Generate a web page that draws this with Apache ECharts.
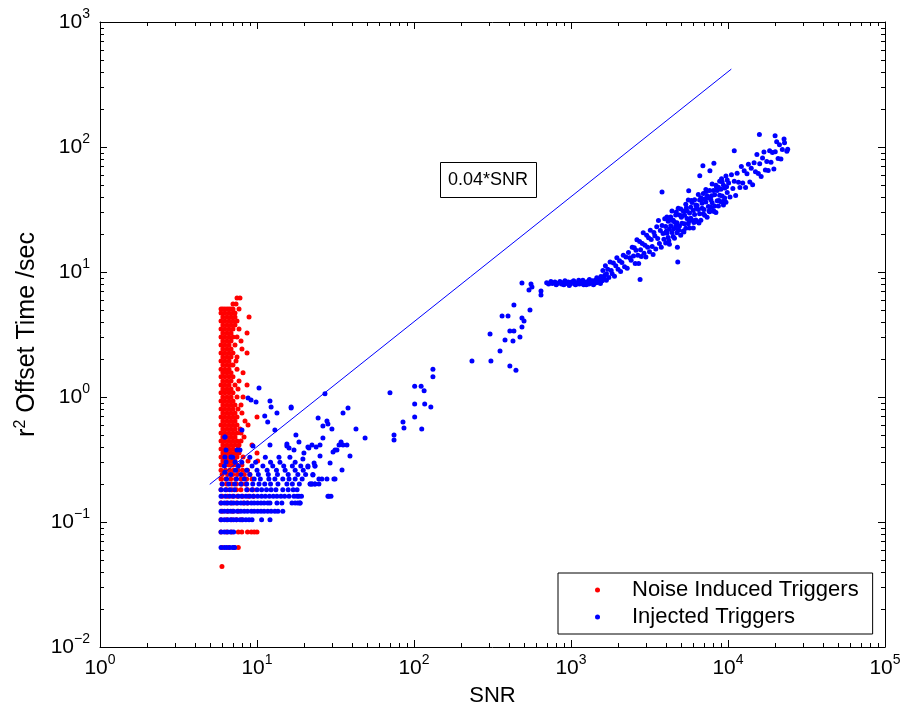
<!DOCTYPE html>
<html><head><meta charset="utf-8">
<script src="https://cdn.jsdelivr.net/npm/echarts@6/dist/echarts.min.js"></script>
<style>html,body{margin:0;padding:0;background:#fff}#c{width:911px;height:715px}</style>
</head><body><div id="c"></div>
<script>
// ---------------- data ----------------
const xTickValues = [1, 10, 100, 1000, 10000, 100000];
const yTickValues = [0.01, 0.1, 1, 10, 100, 1000];
const lineSnr = [5, 10500];
const lineVal = [0.2, 420];
const lineLabel = '0.04*SNR';
const seriesNames = ['Noise Induced Triggers', 'Injected Triggers'];

// Noise induced triggers: rows of [r2 value, [SNR values]]
const redRows = [
  [6.19, [7.46, 7.79]],
  [5.55, [7.03, 7.35]],
  [5.06, [5.9, 6.06, 6.24, 6.44, 6.63, 6.83, 7.03, 7.68]],
  [4.70, [5.9, 6.24, 6.63, 7.03, 7.24]],
  [4.37, [6.06, 6.44, 6.83, 7.24, 8.9]],
  [4.06, [5.9, 6.24, 6.63, 7.03, 7.46]],
  [3.77, [6.06, 6.44, 6.83, 7.24]],
  [3.50, [5.9, 6.24, 6.63, 7.03, 7.68]],
  [3.25, [6.06, 6.44, 6.83, 8.64]],
  [3.02, [5.9, 6.24, 6.63, 7.03, 7.46]],
  [2.81, [6.06, 6.44, 6.83, 7.91]],
  [2.61, [5.9, 6.24, 6.63, 7.24]],
  [2.42, [6.06, 6.44, 6.83, 8.02]],
  [2.25, [5.9, 6.24, 6.63, 7.03, 8.64]],
  [2.09, [6.06, 6.44, 6.83, 7.46]],
  [1.94, [5.9, 6.24, 6.63, 7.35]],
  [1.80, [6.06, 6.44, 6.83, 7.03]],
  [1.67, [5.9, 6.24, 6.63, 7.46]],
  [1.56, [6.06, 6.44, 6.83, 8.15]],
  [1.45, [5.9, 6.24, 6.63, 7.03]],
  [1.34, [6.06, 6.44, 6.83, 7.68]],
  [1.25, [5.9, 6.24, 6.63, 7.24, 8.64]],
  [1.16, [6.06, 6.44, 6.83, 7.57]],
  [1.08, [5.9, 6.24, 6.63, 7.03]],
  [1.00, [6.06, 6.44, 6.83, 7.46, 8.15]],
  [0.929, [5.9, 6.24, 6.63, 7.03]],
  [0.863, [6.06, 6.44, 6.83, 7.24, 7.91]],
  [0.802, [5.9, 6.24, 6.63, 7.03, 7.57]],
  [0.745, [6.06, 6.44, 6.83, 7.24, 8.02]],
  [0.692, [5.9, 6.24, 6.63, 7.03, 7.46, 10.0]],
  [0.643, [6.06, 6.44, 6.83, 7.24, 8.39]],
  [0.597, [5.9, 6.24, 6.63, 7.03, 7.46, 8.77]],
  [0.555, [6.06, 6.44, 6.83, 7.24, 7.79]],
  [0.515, [5.9, 6.24, 6.63, 7.03, 7.46, 7.91]],
  [0.479, [6.06, 6.44, 6.83, 7.24, 8.27]],
  [0.445, [5.9, 6.24, 6.63, 7.03, 7.46, 7.91]],
  [0.413, [6.06, 6.44, 6.83, 7.24, 7.68, 9.29]],
  [0.384, [5.9, 6.24, 6.63, 7.03, 7.57]],
  [0.356, [6.06, 6.44, 6.83, 7.24, 7.68, 10.0]],
  [0.331, [5.9, 6.24, 6.63, 7.03, 7.46, 8.15]],
  [0.308, [6.06, 6.44, 6.83, 7.24, 8.77, 10.1]],
  [0.286, [5.9, 6.24, 6.63, 7.03, 7.46, 8.02]],
  [0.26, [5.9, 6.3, 6.7, 7.1, 7.6, 8.1, 8.7]],
  [0.24, [6.0, 6.5, 7.0, 7.5, 8.3, 9.0]],
  [0.221, [5.9, 6.3, 6.8, 7.3, 7.9, 8.6, 9.3]],
  [0.201, [6.0, 6.4, 6.9, 7.4, 8.0, 8.5]],
  [0.181, [5.9, 6.4, 6.9, 7.4, 7.9, 8.7, 9.4]],
  [0.161, [6.0, 6.5, 7.0, 7.5, 8.1, 8.8, 9.5]],
  [0.142, [5.9, 6.4, 6.9, 7.4, 8.2, 8.7]],
  [0.122, [6.0, 6.5, 7.0, 7.6]],
  [0.104, [5.9, 6.4, 6.9, 7.4, 8.0]],
  [0.083, [5.9, 6.4, 6.9, 7.6, 8.0, 8.7, 9.2, 9.6, 10.0]],
  [0.0625, [6.0, 6.6, 7.2, 7.6]],
  [0.044, [5.98]]
];

// Injected triggers at low SNR, quantized rows: [r2 value, [SNR values]]
const blueRows = [
  [0.0625, [5.9, 6.2, 6.4, 6.7, 7.0, 7.2]],
  [0.083, [5.9, 6.2, 6.5, 6.8, 7.1]],
  [0.104, [5.9, 6.2, 6.5, 6.8, 7.1, 7.4, 7.8, 8.1, 8.5, 8.9, 9.3, 10.7, 12.1]],
  [0.122, [5.9, 6.2, 6.5, 6.8, 7.1, 7.5, 7.9, 8.3, 8.7, 9.2, 9.6, 10.1, 10.6, 11.1, 11.7, 12.3, 13.0, 13.6, 14.6]],
  [0.142, [5.9, 6.2, 6.5, 6.8, 7.1, 7.5, 7.9, 8.3, 8.7, 9.2, 9.6, 10.1, 10.6, 11.1, 11.7, 12.1, 13.4, 14.4, 16.7, 18.2, 18.8]],
  [0.161, [5.9, 6.3, 6.7, 7.1, 7.6, 8.0, 8.5, 9.0, 9.5, 10.1, 10.7, 11.3, 12.0, 12.7, 13.4, 14.2, 15.0, 16.0, 17.2, 18.0, 19.2]],
  [0.181, [5.9, 6.3, 6.7, 7.2, 8.6, 9.3, 10.0, 10.7, 11.5, 12.3, 13.2, 14.6, 15.8, 17.0, 18.0]],
  [0.201, [6.0, 6.6, 7.2, 7.9, 8.6, 9.4, 10.3, 11.2, 12.2, 13.6, 15.5, 16.8, 18.6, 21.8, 22.4, 23.4, 24.8]],
  [0.221, [6.4, 7.4, 8.3, 9.6, 10.5, 11.9, 13.0, 14.6, 16.0, 17.5, 19.4]],
  [0.24, [6.8, 7.9, 9.0, 10.2, 11.8, 13.5, 15.8, 18.2, 20.4, 22.7]],
  [0.26, [7.3, 8.6, 10.0, 11.6, 13.3, 15.1, 17.5, 19.7]],
  [0.28, [6.2, 7.6, 9.3, 10.9, 12.6, 14.8, 16.8, 19.0, 21.1, 23.4]],
  [0.30, [8.0, 9.8, 12.2, 14.0, 17.5]],
  [0.33, [7.0, 9.0, 11.3, 13.8, 16.2]]
];

// Injected triggers, scattered points [SNR, r2]
const blueScatter = [
  [6.24, 0.479], [6.35, 0.377], [7.46, 0.377], [7.79, 0.377], [6.24, 0.331], [6.83, 0.331],
  [6.35, 0.302], [7.24, 0.302], [6.24, 0.25],
  [10.3, 1.18], [12.1, 0.929], [8.77, 0.98], [9.16, 0.946], [9.86, 0.912], [12.3, 0.832],
  [11.2, 0.705], [13.4, 0.745], [16.5, 0.832], [11.7, 0.631], [8.02, 0.545], [13.0, 0.545],
  [6.25, 0.479], [9.43, 0.405], [15.5, 0.405], [12.1, 0.413], [21.1, 0.398],
  [16.5, 0.817], [27.1, 1.06], [24.5, 0.679], [27.9, 0.643], [28.3, 0.608], [26.3, 0.586],
  [30.0, 0.555], [35.3, 0.745], [38.0, 0.817], [42.7, 0.555], [48.8, 0.47], [26.3, 0.47],
  [17.7, 0.497], [18.5, 0.437], [15.5, 0.421], [16.0, 0.391], [17.2, 0.377], [23.8, 0.398],
  [25.2, 0.413], [22.4, 0.413], [21.4, 0.391], [34.3, 0.437], [33.3, 0.413], [37.4, 0.413],
  [31.4, 0.377], [30.5, 0.363], [39.1, 0.337], [25.2, 0.337], [19.9, 0.356], [19.6, 0.319],
  [29.2, 0.296], [34.8, 0.261], [27.9, 0.221], [30.9, 0.221], [24.8, 0.221], [22.4, 0.201],
  [23.4, 0.201], [28.7, 0.161], [29.6, 0.161], [18.5, 0.161], [17.5, 0.142], [18.8, 0.142],
  [21.1, 0.275], [23.4, 0.28], [23.1, 0.296], [22.7, 0.238], [25.9, 0.221], [31.4, 0.221],
  [21.8, 0.201], [32.3, 0.377], [35.3, 0.413], [28.3, 0.161],
  [70.3, 1.08], [74.6, 0.497], [74.6, 0.453], [86.3, 0.565], [85.1, 0.631], [101, 0.692],
  [101, 0.879], [101, 1.22], [111, 1.22], [116, 1.12], [117, 0.879], [128, 0.832],
  [112, 0.555], [132, 1.45], [132, 1.67],
  [234, 1.94], [309, 1.94], [305, 3.19], [364, 4.45], [397, 4.45], [433, 5.45], [487, 4.29],
  [502, 4.06], [487, 3.63], [433, 3.37], [408, 3.37], [473, 3.02], [427, 2.81], [380, 2.86],
  [353, 2.33], [408, 1.77], [446, 1.64], [548, 4.97], [487, 8.17], [556, 8.02], [564, 7.59],
  [540, 7.18], [644, 7.05], [644, 6.55]
];

// Injected triggers, high-SNR band [SNR, r2]
const blueBandFlat = [
  [700, 8.2], [720, 8.0], [745, 8.4], [760, 8.1], [790, 8.3], [805, 7.9], [820, 8.1], [850, 8.4], [870, 8.0],
  [880, 8.2], [900, 7.9], [915, 8.5], [930, 8.1], [960, 8.3], [975, 7.8], [990, 8.0], [1010, 8.3], [1040, 8.5],
  [1055, 8.0], [1070, 7.9], [1100, 8.2], [1120, 8.6], [1130, 8.0], [1160, 8.1], [1190, 8.6], [1205, 7.9],
  [1220, 8.3], [1250, 7.9], [1280, 8.4], [1300, 8.0], [1310, 8.7], [1340, 8.2], [1370, 8.5], [1390, 7.9],
  [1400, 8.1], [1430, 8.6], [1450, 8.2], [1460, 9.0], [1490, 8.3], [1520, 8.7], [1540, 8.1], [1550, 9.2],
  [1580, 8.5], [1610, 8.9], [1640, 9.4], [1680, 8.6]
];
const blueBandRise = [
  [1596, 10.3], [1626, 8.85], [1656, 11.2], [1683, 9.68], [1714, 10.5], [1742, 9.02], [1774, 12.0], [1803, 10.3],
  [1828, 9.7], [1862, 11.8], [1892, 9.25], [1928, 11.2], [1959, 13.0], [1995, 10.5], [2037, 12.3], [2070, 10.1],
  [2109, 11.9], [2153, 13.6], [2193, 11.0], [2239, 13.2], [2280, 10.7], [2323, 14.3], [2366, 13.0], [2415, 12.4],
  [2455, 15.8], [2500, 13.4],
  [2529, 15.6], [2564, 11.7], [2594, 14.9], [2630, 18.1], [2667, 13.6], [2698, 11.7], [2735, 17.5], [2773, 15.1],
  [2805, 13.3], [2844, 16.9], [2884, 20.6], [2917, 14.1], [2958, 16.4], [2999, 13.2], [3034, 19.7], [3076, 15.8],
  [3119, 18.8], [3162, 14.5], [3199, 21.6], [3243, 18.2], [3289, 16.0], [3334, 13.8], [3373, 20.7], [3420, 19.5],
  [3467, 15.3], [3516, 23.0], [3565, 18.5], [3606, 25.8], [3656, 16.9], [3707, 21.5], [3758, 15.8], [3802, 23.6],
  [3855, 20.3], [3908, 18.3], [3954, 26.7], [2754, 8.71],
  [4009, 23.1], [4009, 17.1], [4083, 27.5], [4083, 20.4], [4159, 18.9], [4159, 25.5], [4236, 22.0], [4236, 16.7],
  [4315, 27.5], [4315, 23.4], [4395, 20.7], [4395, 30.7], [4477, 25.9], [4477, 19.2], [4560, 18.6], [4560, 25.1],
  [4645, 28.6], [4645, 23.3], [4732, 24.8], [4732, 20.6], [4819, 32.4], [4819, 21.9], [4909, 23.3], [4909, 28.6],
  [5000, 31.9], [5000, 19.7], [5093, 24.6], [5093, 28.2], [5188, 30.8], [5188, 21.3], [5284, 28.5], [5284, 24.3],
  [5383, 22.4], [5383, 34.8], [5483, 30.8], [5483, 26.8], [5585, 37.6], [5585, 24.3], [5689, 22.5], [5689, 29.6],
  [5794, 33.0], [5794, 26.9], [5902, 26.0], [5902, 35.9], [6012, 31.0], [6012, 22.5], [6124, 37.9], [6124, 28.8],
  [6237, 26.1], [6237, 34.4], [6353, 34.1], [6353, 25.3], [6471, 41.6], [6471, 31.6], [6592, 29.2], [6592, 37.7],
  [6714, 39.2], [6714, 25.9], [6839, 32.4], [6839, 35.5], [6966, 42.4], [6966, 29.3], [7096, 28.4], [7096, 38.3],
  [7228, 36.3], [7228, 45.7], [7362, 27.4], [7362, 40.5], [7499, 39.3], [7499, 33.4], [7638, 44.8], [7638, 30.3],
  [7780, 32.9], [7780, 37.8], [7925, 50.6], [7925, 35.8], [8072, 31.0], [8072, 44.8], [8222, 41.5], [8222, 33.7],
  [8375, 49.5], [8375, 29.9], [8531, 37.2], [8531, 44.8], [8690, 47.6], [8690, 33.7], [8851, 41.2], [8851, 53.1],
  [9016, 36.5], [9016, 45.9], [9183, 52.4], [9183, 40.6], [9354, 34.3], [9354, 49.5], [9528, 47.0], [9528, 39.1],
  [9705, 58.7], [9705, 36.2], [9886, 43.3], [9886, 54.5],
  [4046, 21.2], [4198, 17.8], [4355, 25.9], [4519, 22.2], [4688, 30.2], [4864, 21.6], [5047, 27.4], [5236, 20.9],
  [5433, 32.7], [5636, 25.6], [5848, 37.3], [6067, 24.9], [6295, 32.3], [6531, 24.7], [6776, 38.5], [7031, 31.6],
  [7295, 44.1], [7568, 30.7], [7852, 40.8], [8147, 30.5], [8453, 47.6], [8770, 37.3], [9099, 55.6], [9441, 37.1],
  [9795, 48.1],
  [3800, 43.7], [5620, 44.7], [6610, 58.9], [6920, 70.8], [7670, 64.6], [8130, 74.1], [4786, 12.0], [4760, 15.8],
  [10090, 51.6], [10300, 39.9], [10520, 60.1], [10740, 46.5], [10960, 53.1], [11190, 41.0], [11430, 61.7],
  [11670, 52.2], [11910, 47.4], [12160, 69.8], [12420, 51.5], [12680, 64.6], [12940, 47.5], [13210, 61.0],
  [13490, 72.9], [13770, 52.6], [14060, 67.5], [14350, 49.8], [14660, 74.8], [14960, 63.4], [15280, 87.1],
  [15600, 61.4], [15920, 73.5], [16260, 58.1], [16600, 81.5], [16940, 91.0], [17300, 65.6], [17660, 76.7],
  [18030, 65.0], [18410, 93.5], [18790, 75.5], [19190, 90.4], [19590, 66.7], [20000, 91.6], [20420, 110],
  [20840, 80.9], [21280, 104], [21730, 80.0], [22180, 95.7], [22910, 108], [23710, 92.5],
  [15850, 126], [19950, 123], [10960, 93.3], [22750, 116], [24000, 96]
];

// ---------------- chart ----------------
const FONT = '"Liberation Sans", Arial, Helvetica, sans-serif';
function rowsToPairs(rows) {
  const out = [];
  rows.forEach(function (r) { r[1].forEach(function (x) { out.push([x, r[0]]); }); });
  return out;
}
const redData = rowsToPairs(redRows);
const blueData = rowsToPairs(blueRows).concat(blueScatter, blueBandFlat, blueBandRise);
const lineData = lineSnr.map(function (x, i) { return [x, lineVal[i]]; });

function expLabel(v) {
  const e = Math.round(Math.log10(v));
  return '{b|10}{s|' + (e < 0 ? '\u2212' + (-e) : String(e)) + '}';
}
const richLbl = {
  b: { fontSize: 21, fontFamily: FONT, color: '#000' },
  s: { fontSize: 14, fontFamily: FONT, color: '#000', padding: [0, 0, 16, 0] }
};

function mkAxis(kind, pos, showLabels, min, max) {
  return {
    type: 'log', logBase: 10, min: min, max: max, splitNumber: 5, position: pos,
    axisLine: { show: true, onZero: false, lineStyle: { color: '#000', width: 1 } },
    axisTick: { show: true, inside: true, length: 7, lineStyle: { color: '#000', width: 1 } },
    axisLabel: { show: showLabels, margin: kind === 'x' ? 6 : 10, formatter: expLabel, rich: richLbl, color: '#000' },
    splitLine: { show: false },
    minorTick: { show: false }
  };
}

const xMain = mkAxis('x', 'bottom', true, xTickValues[0], xTickValues[xTickValues.length - 1]);
xMain.name = 'SNR';
xMain.nameLocation = 'middle';
xMain.nameGap = 38;
xMain.nameTextStyle = { fontSize: 22, fontFamily: FONT, color: '#000' };
const xTop = mkAxis('x', 'top', false, xTickValues[0], xTickValues[xTickValues.length - 1]);

const yMain = mkAxis('y', 'left', true, yTickValues[0], yTickValues[yTickValues.length - 1]);
yMain.name = '{t|r}{s|2}{t| Offset Time /sec}';
yMain.nameLocation = 'middle';
yMain.nameGap = 50;
yMain.nameTextStyle = {
  fontSize: 25, fontFamily: FONT, color: '#000',
  rich: {
    t: { fontSize: 25, fontFamily: FONT, color: '#000' },
    s: { fontSize: 16, fontFamily: FONT, color: '#000', padding: [0, 0, 14, 0] }
  }
};
const yRight = mkAxis('y', 'right', false, yTickValues[0], yTickValues[yTickValues.length - 1]);

const chart = echarts.init(document.getElementById('c'), null, { renderer: 'canvas' });
chart.setOption({
  animation: false,
  backgroundColor: '#fff',
  textStyle: { fontFamily: FONT },
  grid: { left: 100, right: 26, top: 22, bottom: 68, containLabel: false },
  xAxis: [xMain, xTop],
  yAxis: [yMain, yRight],
  legend: {
    data: seriesNames,
    orient: 'vertical',
    left: 558, top: 573,
    padding: [6, 14, 6, 37],
    itemGap: 5,
    itemWidth: 5, itemHeight: 5,
    icon: 'circle',
    backgroundColor: '#fff',
    borderColor: '#000', borderWidth: 1,
    formatter: '{p| }{name}',
    textStyle: {
      fontSize: 22, fontFamily: FONT, color: '#000',
      rich: { p: { width: 27, fontSize: 22 } }
    }
  },
  series: [
    {
      name: seriesNames[0], type: 'scatter', xAxisIndex: 0, yAxisIndex: 0,
      data: redData, symbol: 'circle', symbolSize: 5,
      itemStyle: { color: '#ff0000', opacity: 1 }
    },
    {
      name: seriesNames[1], type: 'scatter', xAxisIndex: 0, yAxisIndex: 0,
      data: blueData, symbol: 'circle', symbolSize: 5,
      itemStyle: { color: '#0000ff', opacity: 1 }
    },
    {
      name: lineLabel, type: 'line', xAxisIndex: 0, yAxisIndex: 0,
      data: lineData, showSymbol: false, symbol: 'none',
      lineStyle: { color: '#0000ff', width: 1 }
    }
  ]
});

// minor ticks (log) on all four sides + annotation box
function px(v) { return chart.convertToPixel({ xAxisIndex: 0 }, v); }
function py(v) { return chart.convertToPixel({ yAxisIndex: 0 }, v); }
const L = px(xTickValues[0]), R = px(xTickValues[xTickValues.length - 1]);
const B = py(yTickValues[0]), T = py(yTickValues[yTickValues.length - 1]);
const g = [];
function seg(x1, y1, x2, y2) {
  g.push({ type: 'line', silent: true, z: 50, shape: { x1: x1, y1: y1, x2: x2, y2: y2 }, style: { stroke: '#000', lineWidth: 1 } });
}
const minorLen = 4;
for (let i = 0; i < xTickValues.length - 1; i++) {
  for (let m = 2; m <= 9; m++) {
    const x = Math.round(px(m * xTickValues[i])) + 0.5;
    seg(x, B, x, B - minorLen);
    seg(x, T, x, T + minorLen);
  }
}
for (let i = 0; i < yTickValues.length - 1; i++) {
  for (let m = 2; m <= 9; m++) {
    const y = Math.round(py(m * yTickValues[i])) + 0.5;
    seg(L, y, L + minorLen, y);
    seg(R, y, R - minorLen, y);
  }
}
g.push({
  type: 'rect', z: 60, shape: { x: 440.5, y: 162.5, width: 96, height: 35 },
  style: { fill: '#fff', stroke: '#000', lineWidth: 1 }
});
g.push({
  type: 'text', z: 61, x: 488, y: 180,
  style: { text: lineLabel, fontSize: 18, fontFamily: FONT, fill: '#000', align: 'center', verticalAlign: 'middle' }
});
chart.setOption({ graphic: g });
</script>
</body></html>
